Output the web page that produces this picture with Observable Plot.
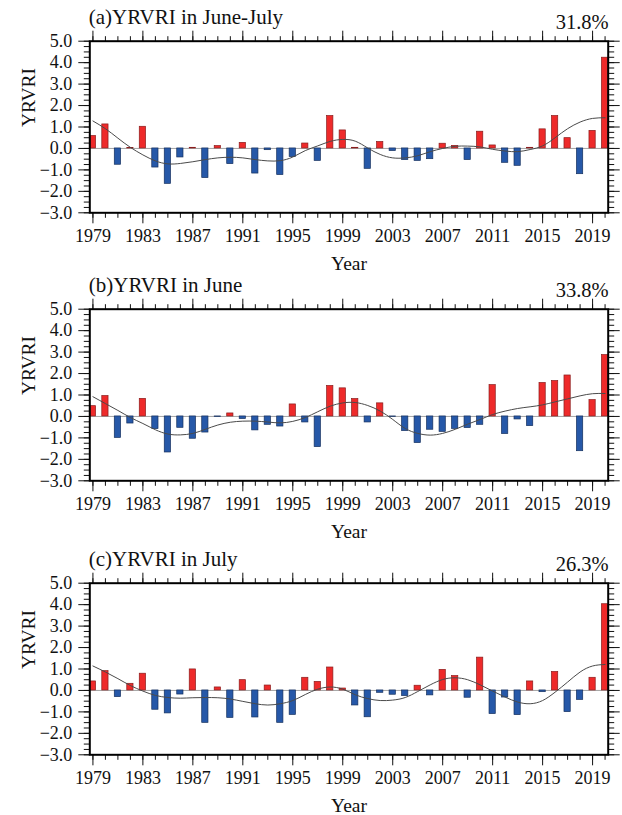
<!DOCTYPE html>
<html>
<head>
<meta charset="utf-8">
<script src="https://cdn.jsdelivr.net/npm/d3@7"></script>
<script src="https://cdn.jsdelivr.net/npm/@observablehq/plot@0.6"></script>
<style>
  body { margin: 0; background: #fff; }
  #chart svg { display: block; overflow: visible; }
</style>
</head>
<body>
<div id="chart"></div>
<script>
// Yangtze River valley rainfall index (YRVRI), standardized, 1979–2020
const years = d3.range(1979, 2021);
const yearTicks = [1979, 1983, 1987, 1991, 1995, 1999, 2003, 2007, 2011, 2015, 2019];
const valueTicks = [-3, -2, -1, 0, 1, 2, 3, 4, 5];

const juneJuly = [0.58, 1.12, -0.76, 0.02, 1.01, -0.89, -1.65, -0.42, 0.03, -1.38,
  0.11, -0.73, 0.26, -1.17, -0.08, -1.24, -0.40, 0.23, -0.58, 1.51,
  0.84, 0.03, -0.95, 0.30, -0.12, -0.54, -0.58, -0.50, 0.22, 0.12,
  -0.54, 0.78, 0.14, -0.67, -0.81, 0.03, 0.89, 1.51, 0.48, -1.20,
  0.82, 4.23];
const juneJulySmooth = [1.28, 0.92, 0.48, 0.05, -0.30, -0.58, -0.72, -0.70, -0.62, -0.52,
  -0.44, -0.41, -0.44, -0.52, -0.58, -0.57, -0.40, -0.10, 0.12, 0.33,
  0.42, 0.34, 0.02, -0.28, -0.44, -0.44, -0.34, -0.15, 0.00, 0.10,
  0.11, 0.07, -0.04, -0.12, -0.15, -0.05, 0.12, 0.50, 0.92, 1.23,
  1.40, 1.43];

const june = [0.48, 0.95, -1.00, -0.33, 0.82, -0.59, -1.68, -0.53, -1.04, -0.75,
  -0.02, 0.14, -0.12, -0.65, -0.39, -0.47, 0.56, -0.28, -1.43, 1.42,
  1.31, 0.81, -0.28, 0.61, -0.02, -0.68, -1.24, -0.62, -0.72, -0.58,
  -0.54, -0.39, 1.46, -0.82, -0.14, -0.45, 1.56, 1.65, 1.91, -1.62,
  0.76, 2.86];
const juneSmooth = [0.92, 0.60, 0.28, -0.05, -0.33, -0.62, -0.82, -0.86, -0.79, -0.60,
  -0.40, -0.27, -0.22, -0.22, -0.26, -0.30, -0.23, -0.05, 0.22, 0.48,
  0.63, 0.65, 0.51, 0.25, -0.14, -0.56, -0.79, -0.87, -0.79, -0.60,
  -0.36, -0.14, 0.09, 0.25, 0.37, 0.45, 0.54, 0.68, 0.82, 0.96,
  1.06, 1.07];

const july = [0.42, 0.90, -0.31, 0.31, 0.78, -0.90, -1.07, -0.19, 0.98, -1.51,
  0.14, -1.28, 0.48, -1.26, 0.23, -1.51, -1.14, 0.59, 0.40, 1.07,
  0.09, -0.70, -1.25, -0.11, -0.20, -0.26, 0.22, -0.23, 0.96, 0.67,
  -0.34, 1.53, -1.10, -0.33, -1.15, 0.42, -0.08, 0.86, -1.01, -0.44,
  0.59, 4.02];
const julySmooth = [1.14, 0.86, 0.55, 0.23, -0.03, -0.23, -0.33, -0.36, -0.34, -0.33,
  -0.34, -0.40, -0.51, -0.62, -0.68, -0.62, -0.47, -0.19, 0.06, 0.16,
  0.06, -0.20, -0.38, -0.47, -0.45, -0.33, -0.05, 0.26, 0.51, 0.59,
  0.50, 0.26, -0.03, -0.31, -0.54, -0.62, -0.47, -0.08, 0.39, 0.86,
  1.14, 1.21];

const titles = ["(a)YRVRI in June-July", "(b)YRVRI in June", "(c)YRVRI in July"];
const percents = ["31.8%", "33.8%", "26.3%"];

const panels = [
  {title: titles[0], pct: percents[0], values: juneJuly, smooth: juneJulySmooth, height: 273, top: 40.7},
  {title: titles[1], pct: percents[1], values: june, smooth: juneSmooth, height: 272, top: 35.7},
  {title: titles[2], pct: percents[2], values: july, smooth: julySmooth, height: 270, top: 37.7}
];

const RED = "#ee2a2a", RED_EDGE = "#8a1c1c";
const BLUE = "#2658a8", BLUE_EDGE = "#15305e";
const FONT = "'Liberation Serif', 'Times New Roman', Times, serif";
const frameH = 171.6;
const minorY = d3.range(-3, 5.001, 0.25);
const fmtY = d3.format(".1f");

const chart = document.getElementById("chart");

for (const p of panels) {
  const bars = years.map((year, i) => ({year, value: p.values[i]}));
  const curve = years.map((year, i) => ({year, value: p.smooth[i]}));
  const marginBottom = p.height - p.top - frameH;

  const svg = Plot.plot({
    width: 622,
    height: p.height,
    marginLeft: 89.3,
    marginRight: 14.3,
    marginTop: p.top,
    marginBottom,
    style: {fontFamily: FONT, fontSize: "18px", color: "#111", background: "#fff", overflow: "visible"},
    x: {domain: [1978.75, 2020.25]},
    y: {domain: [-3, 5]},
    marks: [
      Plot.ruleY([0], {stroke: "#9a9a9a", strokeWidth: 0.9}),
      Plot.rectY(bars, {
        x1: d => d.year - 0.25,
        x2: d => d.year + 0.25,
        y: "value",
        fill: d => d.value >= 0 ? RED : BLUE,
        stroke: d => d.value >= 0 ? RED_EDGE : BLUE_EDGE,
        strokeWidth: 0.7
      }),
      Plot.line(curve, {x: "year", y: "value", curve: "natural", stroke: "#4a4a4a", strokeWidth: 1}),
      // major and minor ticks on all four sides
      Plot.axisX({anchor: "bottom", ticks: yearTicks, tickSize: 11, tickPadding: 5, tickFormat: d => String(d), fontSize: 18, label: null}),
      Plot.axisX({anchor: "bottom", ticks: years, tickSize: 5.5, tickFormat: () => "", label: null}),
      Plot.axisX({anchor: "top", ticks: yearTicks, tickSize: 11, tickFormat: () => "", label: null}),
      Plot.axisX({anchor: "top", ticks: years, tickSize: 5.5, tickFormat: () => "", label: null}),
      Plot.axisY({anchor: "left", ticks: valueTicks, tickSize: 11, tickPadding: 6.5, tickFormat: fmtY, fontSize: 18, label: null}),
      Plot.axisY({anchor: "left", ticks: minorY, tickSize: 5.5, tickFormat: () => "", label: null}),
      Plot.axisY({anchor: "right", ticks: valueTicks, tickSize: 11, tickFormat: () => "", label: null}),
      Plot.axisY({anchor: "right", ticks: minorY, tickSize: 5.5, tickFormat: () => "", label: null}),
      Plot.frame({stroke: "#000", strokeWidth: 2}),
      // panel title, explained variance, axis titles
      Plot.text([p.title], {text: d => d, frameAnchor: "top-left", textAnchor: "start", lineAnchor: "bottom", dx: -1, dy: -17.7, fontSize: 21}),
      Plot.text([p.pct], {text: d => d, frameAnchor: "top-right", textAnchor: "end", lineAnchor: "bottom", dx: 0.5, dy: -12.4, fontSize: 20.5}),
      Plot.text(["Year"], {text: d => d, frameAnchor: "bottom", lineAnchor: "bottom", dy: 56.7, fontSize: 19.5}),
      Plot.text(["YRVRI"], {text: d => d, frameAnchor: "left", lineAnchor: "middle", rotate: -90, dx: -61, fontSize: 19.5})
    ]
  });
  chart.appendChild(svg);
}
</script>
</body>
</html>
